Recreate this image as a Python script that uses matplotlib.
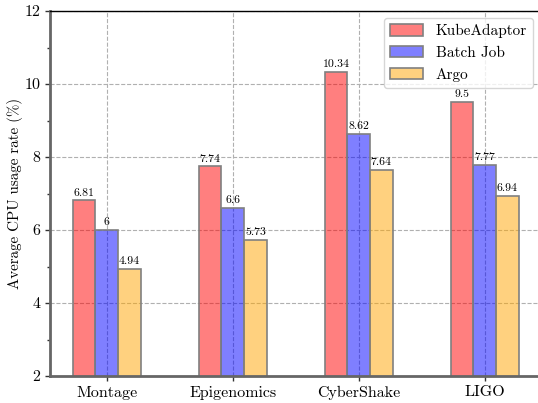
import matplotlib
matplotlib.use("Agg")
import matplotlib.pyplot as plt
import numpy as np

categories = ["Montage", "Epigenomics", "CyberShake", "LIGO"]
kubeadaptor = [6.81, 7.74, 10.34, 9.5]
batch_job = [6, 6.6, 8.62, 7.77]
argo = [4.94, 5.73, 7.64, 6.94]
series_names = ["KubeAdaptor", "Batch Job", "Argo"]
yticks = [2, 4, 6, 8, 10, 12]

plt.rcParams['font.family'] = ['cmr10', 'DejaVu Serif']
plt.rcParams['mathtext.fontset'] = 'cm'
plt.rcParams['axes.formatter.use_mathtext'] = True

fig = plt.figure(figsize=(5.38, 4.03), dpi=100)
ax = fig.add_axes([50/538, 27/403, 491.4/538, 365/403])

x = np.arange(len(categories))
w = 0.18
colors = [(1, 0, 0, 0.5), (0, 0, 1, 0.5), (1, 0.647, 0, 0.5)]
for i, (vals, name) in enumerate(zip([kubeadaptor, batch_job, argo], series_names)):
    bars = ax.bar(x + (i - 1) * w, vals, w, color=colors[i], edgecolor='gray',
                  linewidth=1.2, label=name, zorder=2)
    for b, v in zip(bars, vals):
        ax.text(b.get_x() + b.get_width() / 2, v + 0.08, f"{v:g}", ha='center',
                va='bottom', fontsize=8.5)

ax.set_xlim(-0.45, 3.45)
ax.set_ylim(2, 12)
ax.set_xticks(x)
ax.set_xticklabels(categories, fontsize=11.5)
ax.set_yticks(yticks)
ax.set_yticklabels([str(t) for t in yticks], fontsize=11.5)
ax.set_yticks(np.arange(3, 12, 2), minor=True)
ax.tick_params(axis='both', which='major', length=3.5, width=1, color='#333333')
ax.tick_params(axis='y', which='minor', length=2, width=1, color='#333333')
ax.set_ylabel("Average CPU usage rate (%)", fontsize=10.8, labelpad=1)

ax.grid(True, linestyle='--', color='#b0b0b0', linewidth=0.8, zorder=0)
ax.set_axisbelow(True)

for s in ['left', 'bottom']:
    ax.spines[s].set_color('#666666')
    ax.spines[s].set_linewidth(2)
ax.spines['top'].set_color('black')
ax.spines['top'].set_linewidth(1)
ax.spines['right'].set_visible(False)

ax.legend(loc='upper right', bbox_to_anchor=(533/538, 1 - 18/403),
          bbox_transform=fig.transFigure, borderaxespad=0, fontsize=11,
          handlelength=2.2, handleheight=0.75, framealpha=0.8, edgecolor='#cccccc', fancybox=True)

fig.savefig("out.png", dpi=100)
